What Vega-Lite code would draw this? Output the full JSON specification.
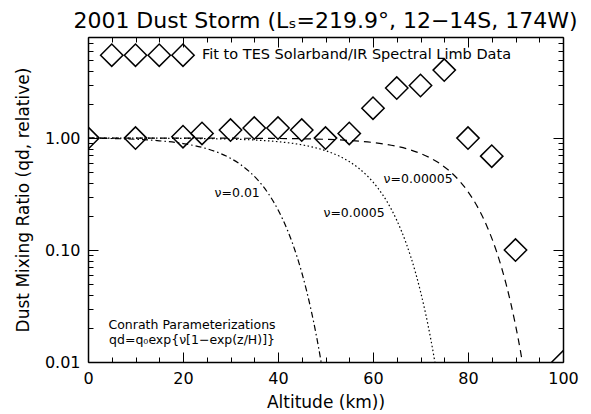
{
  "$schema": "https://vega.github.io/schema/vega-lite/v6.json",
  "width": 475,
  "height": 325,
  "autosize": {"type": "none"},
  "padding": {"left": 88, "top": 37, "right": 28, "bottom": 52},
  "background": "white",
  "title": {"text": "2001 Dust Storm (Lₛ=219.9°, 12−14S, 174W)", "font": "DejaVu Sans", "fontSize": 22, "letterSpacing": 0.8, "fontWeight": "normal", "color": "black", "offset": -4, "anchor": "middle"},
  "config": {
    "view": {"stroke": null},
    "axis": {"domainColor": "black", "domainWidth": 1.5, "tickColor": "black", "tickWidth": 1, "grid": false, "labelFont": "DejaVu Sans", "labelFontSize": 16, "labelColor": "black", "titleFont": "DejaVu Sans", "titleFontSize": 17, "titleFontWeight": "normal", "titleColor": "black", "labelOverlap": false, "labelFlush": false}
  },
  "datasets": {
    "tes": [
      {"alt": 0, "q": 1.0}, {"alt": 10, "q": 1.0}, {"alt": 20, "q": 1.03}, {"alt": 24, "q": 1.1},
      {"alt": 30, "q": 1.18}, {"alt": 35, "q": 1.23}, {"alt": 40, "q": 1.23}, {"alt": 45, "q": 1.18},
      {"alt": 50, "q": 1.0}, {"alt": 55, "q": 1.1}, {"alt": 60, "q": 1.85}, {"alt": 65, "q": 2.8},
      {"alt": 70, "q": 2.95}, {"alt": 75, "q": 4.05}, {"alt": 80, "q": 1.0}, {"alt": 85, "q": 0.69},
      {"alt": 90, "q": 0.1}, {"alt": 100, "q": 0.01}
    ],
    "legend": [
      {"alt": 5, "q": 5.5}, {"alt": 10, "q": 5.5}, {"alt": 15, "q": 5.5}, {"alt": 20, "q": 5.5}
    ],
    "conrath": [
      {"nu": "0.01", "alt": 0, "q": 1}, {"nu": "0.01", "alt": 5, "q": 0.9914}, {"nu": "0.01", "alt": 10, "q": 0.9754},
      {"nu": "0.01", "alt": 15, "q": 0.9463}, {"nu": "0.01", "alt": 20, "q": 0.8942}, {"nu": "0.01", "alt": 25, "q": 0.8045},
      {"nu": "0.01", "alt": 28, "q": 0.7253}, {"nu": "0.01", "alt": 30, "q": 0.6602}, {"nu": "0.01", "alt": 32, "q": 0.5851},
      {"nu": "0.01", "alt": 34, "q": 0.501}, {"nu": "0.01", "alt": 36, "q": 0.4106}, {"nu": "0.01", "alt": 38, "q": 0.318},
      {"nu": "0.01", "alt": 40, "q": 0.229}, {"nu": "0.01", "alt": 42, "q": 0.1502}, {"nu": "0.01", "alt": 44, "q": 0.0874},
      {"nu": "0.01", "alt": 45, "q": 0.0631}, {"nu": "0.01", "alt": 46, "q": 0.0436}, {"nu": "0.01", "alt": 47, "q": 0.0287},
      {"nu": "0.01", "alt": 48, "q": 0.01788}, {"nu": "0.01", "alt": 49, "q": 0.01045}, {"nu": "0.01", "alt": 49.2, "q": 0.0093},
      {"nu": "0.0005", "alt": 0, "q": 1}, {"nu": "0.0005", "alt": 10, "q": 0.9988}, {"nu": "0.0005", "alt": 20, "q": 0.9944},
      {"nu": "0.0005", "alt": 30, "q": 0.9795}, {"nu": "0.0005", "alt": 35, "q": 0.9615}, {"nu": "0.0005", "alt": 40, "q": 0.929},
      {"nu": "0.0005", "alt": 45, "q": 0.871}, {"nu": "0.0005", "alt": 50, "q": 0.7722}, {"nu": "0.0005", "alt": 53, "q": 0.6864},
      {"nu": "0.0005", "alt": 55, "q": 0.6168}, {"nu": "0.0005", "alt": 57, "q": 0.5375}, {"nu": "0.0005", "alt": 59, "q": 0.4506},
      {"nu": "0.0005", "alt": 61, "q": 0.3592}, {"nu": "0.0005", "alt": 63, "q": 0.2685}, {"nu": "0.0005", "alt": 65, "q": 0.1848},
      {"nu": "0.0005", "alt": 67, "q": 0.1144}, {"nu": "0.0005", "alt": 69, "q": 0.0618}, {"nu": "0.0005", "alt": 70, "q": 0.0426},
      {"nu": "0.0005", "alt": 71, "q": 0.028}, {"nu": "0.0005", "alt": 72, "q": 0.0174}, {"nu": "0.0005", "alt": 73, "q": 0.01015},
      {"nu": "0.0005", "alt": 73.3, "q": 0.00852},
      {"nu": "0.00005", "alt": 0, "q": 1}, {"nu": "0.00005", "alt": 20, "q": 0.99944}, {"nu": "0.00005", "alt": 30, "q": 0.99792},
      {"nu": "0.00005", "alt": 40, "q": 0.9927}, {"nu": "0.00005", "alt": 50, "q": 0.9745}, {"nu": "0.00005", "alt": 55, "q": 0.9528},
      {"nu": "0.00005", "alt": 60, "q": 0.9136}, {"nu": "0.00005", "alt": 65, "q": 0.8447}, {"nu": "0.00005", "alt": 68, "q": 0.7822},
      {"nu": "0.00005", "alt": 70, "q": 0.7294}, {"nu": "0.00005", "alt": 72, "q": 0.6669}, {"nu": "0.00005", "alt": 74, "q": 0.5944},
      {"nu": "0.00005", "alt": 76, "q": 0.5128}, {"nu": "0.00005", "alt": 78, "q": 0.4241}, {"nu": "0.00005", "alt": 80, "q": 0.3325},
      {"nu": "0.00005", "alt": 82, "q": 0.2431}, {"nu": "0.00005", "alt": 84, "q": 0.1627}, {"nu": "0.00005", "alt": 86, "q": 0.0972},
      {"nu": "0.00005", "alt": 87, "q": 0.0712}, {"nu": "0.00005", "alt": 88, "q": 0.0501}, {"nu": "0.00005", "alt": 89, "q": 0.0336},
      {"nu": "0.00005", "alt": 90, "q": 0.0214}, {"nu": "0.00005", "alt": 91, "q": 0.01283}, {"nu": "0.00005", "alt": 91.5, "q": 0.00969},
      {"nu": "0.00005", "alt": 91.8, "q": 0.00812}
    ],
    "nulabels": [
      {"alt": 31.4, "q": 0.323, "label": "ν=0.01"},
      {"alt": 56, "q": 0.214, "label": "ν=0.0005"},
      {"alt": 69.5, "q": 0.43, "label": "ν=0.00005"}
    ],
    "notes": [
      {"alt": 21.9, "q": 0.0214, "label": "Conrath Parameterizations"},
      {"alt": 21.9, "q": 0.0157, "label": "qd=q₀exp{ν[1−exp(z/H)]}"}
    ],
    "legendtext": [
      {"alt": 24, "q": 5.5, "label": "Fit to TES Solarband/IR Spectral Limb Data"}
    ]
  },
  "layer": [
    {
      "data": {"name": "conrath"},
      "mark": {"type": "line", "color": "black", "strokeWidth": 1.2, "clip": true, "interpolate": "monotone"},
      "encoding": {
        "x": {"field": "alt", "type": "quantitative", "scale": {"domain": [0, 100], "nice": false, "zero": false},
          "axis": {"orient": "top", "labels": false, "title": null, "values": [0,5,10,15,20,25,30,35,40,45,50,55,60,65,70,75,80,85,90,95,100],
            "tickSize": {"condition": {"test": "datum.value % 20 == 0", "value": -10}, "value": -5}}},
        "y": {"field": "q", "type": "quantitative", "scale": {"type": "log", "domain": [0.01, 8], "nice": false},
          "axis": {"orient": "right", "labels": false, "title": null, "values": [0.01,0.02,0.03,0.04,0.05,0.06,0.07,0.08,0.09,0.1,0.2,0.3,0.4,0.5,0.6,0.7,0.8,0.9,1,2,3,4,5,6,7,8],
            "tickSize": {"condition": {"test": "datum.value == 0.01 || datum.value == 0.1 || datum.value == 1", "value": -10}, "value": -5}}},
        "detail": {"field": "nu"},
        "strokeDash": {"field": "nu", "type": "nominal", "scale": {"domain": ["0.01", "0.0005", "0.00005"], "range": [[6, 3, 1.5, 3], [1.5, 2.5], [7, 5]]}, "legend": null}
      }
    },
    {
      "mark": {"type": "rule", "color": "black", "strokeWidth": 1.5},
      "encoding": {"y": {"datum": 1, "type": "quantitative", "axis": null}}
    },
    {
      "data": {"name": "tes"},
      "mark": {"type": "point", "shape": "diamond", "size": 500, "filled": false, "color": "black", "strokeWidth": 1.5, "clip": true, "opacity": 1},
      "encoding": {
        "x": {"field": "alt", "type": "quantitative", "title": "Altitude (km))",
          "axis": {"orient": "bottom", "values": [0,5,10,15,20,25,30,35,40,45,50,55,60,65,70,75,80,85,90,95,100],
            "labelExpr": "datum.value % 20 == 0 ? datum.label : ''", "labelPadding": 18, "titlePadding": 3,
            "tickSize": {"condition": {"test": "datum.value % 20 == 0", "value": -10}, "value": -5}}},
        "y": {"field": "q", "type": "quantitative", "title": "Dust Mixing Ratio (qd, relative)",
          "axis": {"orient": "left", "format": ".2f", "values": [0.01,0.02,0.03,0.04,0.05,0.06,0.07,0.08,0.09,0.1,0.2,0.3,0.4,0.5,0.6,0.7,0.8,0.9,1,2,3,4,5,6,7,8],
            "labelExpr": "(datum.value == 0.01 || datum.value == 0.1 || datum.value == 1) ? datum.label : ''", "labelPadding": 18, "titlePadding": 12,
            "tickSize": {"condition": {"test": "datum.value == 0.01 || datum.value == 0.1 || datum.value == 1", "value": -10}, "value": -5}}}
      }
    },
    {
      "data": {"name": "legend"},
      "mark": {"type": "point", "shape": "diamond", "size": 500, "filled": false, "color": "black", "strokeWidth": 1.5, "opacity": 1},
      "encoding": {
        "x": {"field": "alt", "type": "quantitative", "axis": null},
        "y": {"field": "q", "type": "quantitative", "axis": null}
      }
    },
    {
      "data": {"name": "legendtext"},
      "mark": {"type": "text", "align": "left", "baseline": "middle", "font": "DejaVu Sans", "fontSize": 14.5, "color": "black"},
      "encoding": {
        "x": {"field": "alt", "type": "quantitative", "axis": null},
        "y": {"field": "q", "type": "quantitative", "axis": null},
        "text": {"field": "label"}
      }
    },
    {
      "data": {"name": "nulabels"},
      "mark": {"type": "text", "align": "center", "baseline": "middle", "font": "DejaVu Sans", "fontSize": 12.5, "color": "black"},
      "encoding": {
        "x": {"field": "alt", "type": "quantitative", "axis": null},
        "y": {"field": "q", "type": "quantitative", "axis": null},
        "text": {"field": "label"}
      }
    },
    {
      "data": {"name": "notes"},
      "mark": {"type": "text", "align": "center", "baseline": "middle", "font": "DejaVu Sans", "fontSize": 12.5, "color": "black"},
      "encoding": {
        "x": {"field": "alt", "type": "quantitative", "axis": null},
        "y": {"field": "q", "type": "quantitative", "axis": null},
        "text": {"field": "label"}
      }
    }
  ],
  "resolve": {"axis": {"x": "independent", "y": "independent"}}
}
